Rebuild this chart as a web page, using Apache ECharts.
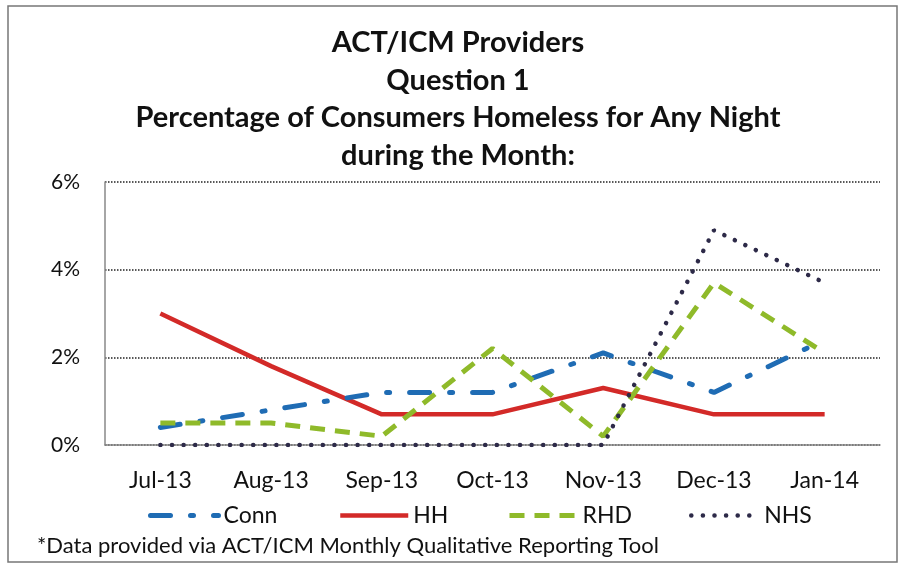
<!DOCTYPE html>
<html>
<head>
<meta charset="utf-8">
<script src="https://cdn.jsdelivr.net/npm/echarts@6/dist/echarts.min.js"></script>
<style>
html,body{margin:0;padding:0;background:#fff;}
#c{width:899px;height:564px;}
</style>
</head>
<body>
<div id="c"></div>
<script>
var categories = ['Jul-13','Aug-13','Sep-13','Oct-13','Nov-13','Dec-13','Jan-14'];
var connValues = [0.4, 0.8, 1.2, 1.2, 2.1, 1.2, 2.4];
var hhValues   = [3.0, 1.8, 0.7, 0.7, 1.3, 0.7, 0.7];
var rhdValues  = [0.5, 0.5, 0.2, 2.2, 0.2, 3.7, 2.1];
var nhsValues  = [0, 0, 0, 0, 0, 4.9, 3.7];
var yTicks = [0, 2, 4, 6];
var titleLines = ['ACT/ICM Providers','Question 1','Percentage of Consumers Homeless for Any Night','during the Month:'];
var footnote = '*Data provided via ACT/ICM Monthly Qualitative Reporting Tool';
var seriesNames = ['Conn','HH','RHD','NHS'];

var FONT = 'Lato, "Open Sans", sans-serif';
var chart = echarts.init(document.getElementById('c'), null, {renderer:'canvas'});

var titleGraphics = titleLines.map(function(t, i){
  return {
    type:'text', x: 458, y: 43 + i*37.5,
    style:{text:t, font:'bold 29px ' + FONT, fill:'#111', textAlign:'center', textVerticalAlign:'middle'}
  };
});

var legendLeft = [143, 333, 502, 684];
var legendWidths = [5, 4.5, 5, 4.5];
var legends = seriesNames.map(function(n, i){
  return {
    data:[n], left: legendLeft[i], top: 499, itemWidth: 68, itemHeight: 14,
    itemStyle:{opacity:0},
    lineStyle:{width: legendWidths[i]},
    textStyle:{fontSize:23, fontFamily:FONT, color:'#111'}
  };
});

chart.setOption({
  animation:false,
  backgroundColor:'#fff',
  grid:{left:105, right:19, top:182, bottom:119},
  xAxis:{
    type:'category', data:categories, boundaryGap:true,
    axisLine:{show:true, lineStyle:{color:'#888', width:1.5}},
    axisTick:{show:false},
    axisLabel:{fontSize:23, fontFamily:FONT, color:'#111', margin:24}
  },
  yAxis:{
    type:'value', min:yTicks[0], max:yTicks[yTicks.length-1], interval:2,
    axisLine:{show:true, lineStyle:{color:'#888', width:1.5}},
    axisTick:{show:false},
    axisLabel:{fontSize:21, fontFamily:FONT, color:'#111', margin:25, formatter:'{value}%'},
    splitLine:{show:true, lineStyle:{color:'#222', width:1.5, type:[1.5,1.5]}}
  },
  legend: legends,
  graphic: titleGraphics.concat([
    {type:'text', x:37, y:546, style:{text:footnote, font:'22px ' + FONT, fill:'#111', textVerticalAlign:'middle'}},
    {type:'rect', shape:{x:8, y:6, width:889, height:556}, style:{fill:null, stroke:'#777', lineWidth:1.5}, silent:true}
  ]),
  series:[
    {name:'Conn', type:'line', data:connValues, symbol:'none', z:3,
     lineStyle:{color:'#1f6cb4', width:5, type:[20,20,3,20], cap:'round'}, itemStyle:{color:'#1f6cb4'}},
    {name:'HH', type:'line', data:hhValues, symbol:'none', z:2,
     lineStyle:{color:'#d32a28', width:4.5}, itemStyle:{color:'#d32a28'}},
    {name:'RHD', type:'line', data:rhdValues, symbol:'none', z:4,
     lineStyle:{color:'#8fba2a', width:5, type:[15,10]}, itemStyle:{color:'#8fba2a'}},
    {name:'NHS', type:'line', data:nhsValues, symbol:'none', z:5,
     lineStyle:{color:'#2d2a48', width:4.5, type:[0.1,11.5], cap:'round'}, itemStyle:{color:'#2d2a48'}}
  ]
});
</script>
</body>
</html>
